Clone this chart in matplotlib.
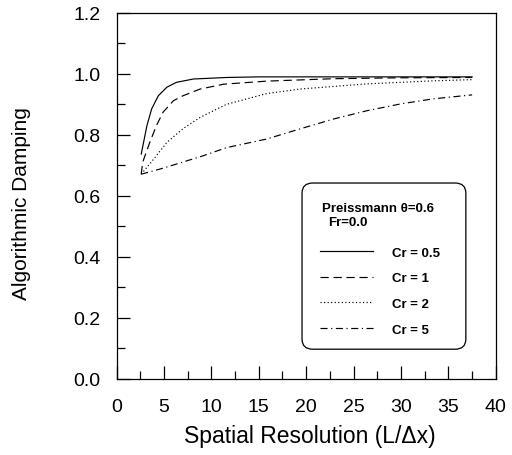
import matplotlib
matplotlib.use("Agg")
import matplotlib.pyplot as plt
from matplotlib.patches import FancyBboxPatch
from matplotlib.ticker import MultipleLocator, FormatStrFormatter

plt.rcParams['font.family'] = ['Liberation Sans', 'DejaVu Sans']

# Data
x_cr05 = [2.6, 3.2, 3.7, 4.4, 5.3, 6.3, 8.1, 11.6, 15, 20, 25, 30, 37.5]
y_cr05 = [0.737, 0.83, 0.885, 0.928, 0.956, 0.972, 0.983, 0.988, 0.99, 0.99, 0.99, 0.99, 0.99]

x_cr1 = [2.6, 2.75, 3.5, 4.2, 4.9, 6.0, 7.0, 8.8, 11.3, 15.8, 22.9, 30, 37.5]
y_cr1 = [0.671, 0.71, 0.775, 0.83, 0.874, 0.912, 0.928, 0.95, 0.966, 0.976, 0.984, 0.987, 0.988]

x_cr2 = [2.6, 3.9, 5.3, 7.0, 8.8, 11.6, 15.8, 19.3, 26.4, 33.4, 37.5]
y_cr2 = [0.671, 0.72, 0.775, 0.82, 0.857, 0.9, 0.935, 0.95, 0.967, 0.977, 0.981]

x_cr5 = [2.6, 4.6, 6.3, 9.1, 11.6, 15.8, 19.3, 22.9, 26.4, 29.9, 33.4, 37.5]
y_cr5 = [0.671, 0.688, 0.704, 0.731, 0.758, 0.786, 0.819, 0.852, 0.879, 0.901, 0.918, 0.931]

labels = ["Cr = 0.5", "Cr = 1", "Cr = 2", "Cr = 5"]

fig = plt.figure(figsize=(5.12, 4.56), dpi=100)
ax = fig.add_axes([0.2277, 0.167, 0.7407, 0.8027])

lw = 0.85
h1, = ax.plot(x_cr05, y_cr05, color='black', lw=lw, linestyle='-')
h2, = ax.plot(x_cr1, y_cr1, color='black', lw=lw, linestyle=(0, (7, 4)))
h3, = ax.plot(x_cr2, y_cr2, color='black', lw=lw, linestyle=(0, (1, 2)))
h4, = ax.plot(x_cr5, y_cr5, color='black', lw=lw, linestyle=(0, (6, 3, 1, 3)))

ax.set_xlim(0, 40)
ax.set_ylim(0, 1.2)
ax.xaxis.set_major_locator(MultipleLocator(5))
ax.xaxis.set_minor_locator(MultipleLocator(2.5))
ax.yaxis.set_major_locator(MultipleLocator(0.2))
ax.yaxis.set_minor_locator(MultipleLocator(0.1))
ax.yaxis.set_major_formatter(FormatStrFormatter('%.1f'))

ax.tick_params(axis='both', which='major', direction='in', length=9.5, width=0.9,
               labelsize=14)
ax.tick_params(axis='both', which='minor', direction='in', length=6, width=0.9)
ax.tick_params(axis='x', which='major', pad=14)
ax.tick_params(axis='y', which='major', pad=11.5)
ax.tick_params(top=False, right=False, which='both')
for s in ax.spines.values():
    s.set_linewidth(0.9)

ax.set_xlabel("Spatial Resolution (L/\u0394x)", fontsize=16.5, va='center')
ax.xaxis.set_label_coords(0.509, -0.156)
ax.set_ylabel("Algorithmic Damping", fontsize=15, va='center')
ax.yaxis.set_label_coords(-0.251, 0.482)

# Legend box
box = FancyBboxPatch((0.489, 0.081), 0.432, 0.454, transform=ax.transAxes,
                     boxstyle="round,pad=0,rounding_size=0.028",
                     facecolor='white', edgecolor='black', linewidth=0.9, zorder=3)
ax.add_patch(box)
ax.text(0.542, 0.466, "Preissmann \u03b8=0.6", transform=ax.transAxes, fontsize=9.5,
        fontweight='bold', va='center', ha='left', zorder=4)
ax.text(0.558, 0.429, "Fr=0.0", transform=ax.transAxes, fontsize=9.5,
        fontweight='bold', va='center', ha='left', zorder=4)

leg = ax.legend([h1, h2, h3, h4], labels, loc='upper left',
                bbox_to_anchor=(0.536, 0.362), frameon=False,
                prop={'size': 9.5, 'weight': 'bold'}, handlelength=4.0,
                handletextpad=1.45, labelspacing=1.02, borderpad=0, borderaxespad=0)
leg.set_zorder(5)

fig.savefig("out.png", dpi=100)
